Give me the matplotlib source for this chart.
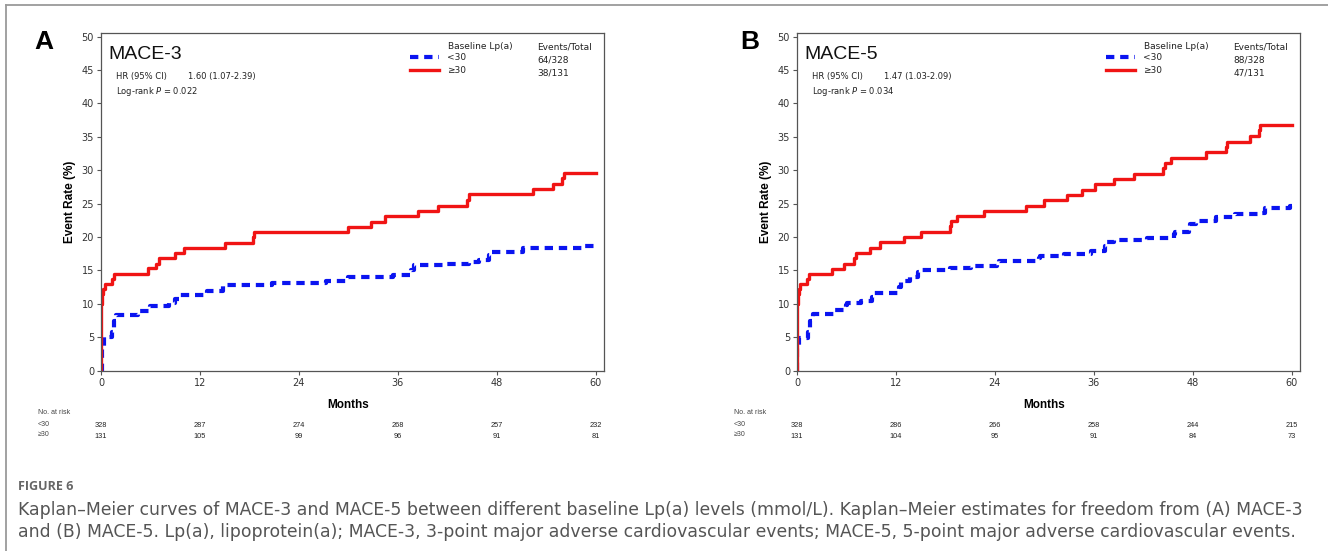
import matplotlib
matplotlib.use("Agg")
import matplotlib.pyplot as plt
from matplotlib.lines import Line2D
from matplotlib.transforms import blended_transform_factory

# ---- data ----
months_ticks = [0, 12, 24, 36, 48, 60]
y_ticks = [0, 5, 10, 15, 20, 25, 30, 35, 40, 45, 50]

# panel A, MACE-3
a_low_t = [0, 0.1, 0.4, 1.3, 1.6, 1.8, 4.5, 5.9, 8.2, 9.0, 9.4, 12.8, 14.8, 20.7,
           27.3, 30.0, 35.4, 37.6, 37.9, 41.9, 44.6, 45.8, 47.0, 47.2, 51.2, 58.6, 59.9, 60]
a_low_v = [0, 3.5, 5.0, 5.8, 7.5, 8.3, 8.9, 9.7, 10.1, 10.8, 11.3, 12.0, 12.9, 13.2,
           13.5, 14.0, 14.4, 15.1, 15.8, 16.0, 16.2, 16.6, 17.3, 17.7, 18.3, 18.6, 18.9, 18.9]
a_high_t = [0, 0.05, 0.1, 0.2, 0.5, 1.3, 1.6, 5.7, 6.7, 7.0, 9.0, 10.1, 15.0, 18.4, 18.6,
            29.9, 32.8, 34.5, 38.5, 40.9, 44.4, 44.6, 52.4, 54.8, 55.9, 56.1, 60]
a_high_v = [0, 10.0, 11.5, 12.2, 13.0, 13.8, 14.5, 15.3, 16.0, 16.8, 17.6, 18.3, 19.1, 20.0, 20.7,
            21.5, 22.3, 23.1, 23.9, 24.7, 25.6, 26.4, 27.2, 28.0, 28.8, 29.6, 29.6]
a_events = ["64/328", "38/131"]
a_risk_low = [328, 287, 274, 268, 257, 232]
a_risk_high = [131, 105, 99, 96, 91, 81]

# panel B, MACE-5
b_low_t = [0, 0.05, 0.2, 1.3, 1.6, 2.0, 4.6, 5.9, 6.1, 7.8, 9.1, 9.3, 12.4, 12.6, 13.7, 14.7, 14.9,
           18.6, 21.1, 24.3, 24.5, 29.3, 29.5, 32.4, 35.6, 37.4, 37.6, 38.5, 42.5, 45.7, 45.9,
           47.5, 47.7, 48.4, 50.8, 53.1, 56.0, 56.7, 59.8, 60]
b_low_v = [0, 3.5, 4.9, 5.8, 7.5, 8.5, 9.1, 9.8, 10.1, 10.4, 11.0, 11.6, 12.5, 13.4, 14.0, 14.7, 15.1,
           15.3, 15.7, 16.0, 16.4, 16.8, 17.2, 17.5, 17.9, 18.6, 19.2, 19.5, 19.9, 20.4, 20.8,
           21.6, 22.0, 22.4, 23.0, 23.4, 23.6, 24.3, 24.6, 24.6]
b_high_t = [0, 0.05, 0.1, 0.2, 0.4, 1.2, 1.5, 4.2, 5.7, 6.9, 7.1, 8.9, 10.1, 13.0, 15.0, 18.5, 18.7,
            19.4, 22.7, 27.8, 29.9, 32.8, 34.6, 36.1, 38.5, 40.9, 44.4, 44.6, 45.4, 49.6,
            52.0, 52.2, 54.9, 56.0, 56.2, 60]
b_high_v = [0, 10.0, 11.5, 12.2, 13.0, 13.8, 14.5, 15.2, 16.0, 16.8, 17.6, 18.4, 19.2, 20.0, 20.8, 21.6, 22.4,
            23.1, 23.9, 24.7, 25.5, 26.3, 27.1, 27.9, 28.7, 29.5, 30.3, 31.1, 31.9, 32.7,
            33.5, 34.3, 35.1, 36.0, 36.8, 36.8]
b_events = ["88/328", "47/131"]
b_risk_low = [328, 286, 266, 258, 244, 215]
b_risk_high = [131, 104, 95, 91, 84, 73]

group_labels = ["<30", "\u226530"]

W, H = 1328, 551
NARROW = ["Liberation Sans Narrow", "DejaVu Sans"]
SANS = ["Liberation Sans", "DejaVu Sans"]
BLUE = "#0a14f0"
RED = "#f01414"


def fx(x):
    return x / W


def fy(y):
    return 1 - y / H


fig = plt.figure(figsize=(W / 100, H / 100), dpi=100)
fig.patch.set_facecolor("white")

# grey frame of the figure box
fig.add_artist(Line2D([fx(6), fx(6)], [fy(5), 0], color="#9a9a9a", lw=1.3))
fig.add_artist(Line2D([fx(6), 1], [fy(5), fy(5)], color="#9a9a9a", lw=1.3))


def panel(left_px, letter, letter_x, title, hr, pval,
          low_t, low_v, high_t, high_v, events, risk_low, risk_high):
    ax = fig.add_axes([fx(left_px), fy(370.7), 503 / W, 337.7 / H])
    ax.step(low_t, low_v, where="post", color=BLUE, lw=3.0, ls=(0, (2.0, 1.4)),
            label=group_labels[0])
    ax.step(high_t, high_v, where="post", color=RED, lw=2.4, label=group_labels[1])
    ax.set_xlim(0, 61)
    ax.set_ylim(0, 50.55)
    ax.set_xticks(months_ticks)
    ax.set_yticks(y_ticks)
    for s in ax.spines.values():
        s.set_color("#555555")
        s.set_linewidth(0.9)
    ax.tick_params(direction="out", length=3, width=0.8, color="#555555",
                   labelsize=7, labelcolor="#333333", pad=2)
    for lab in ax.get_xticklabels() + ax.get_yticklabels():
        lab.set_family(NARROW)
    ax.set_ylabel("Event Rate (%)", fontsize=8.5, fontweight="bold", family=SANS, labelpad=4)

    # legend table
    leg = ax.legend(loc="upper left", bbox_to_anchor=(0.615, 0.940), frameon=False,
                    handlelength=3.2, handletextpad=0.9, labelspacing=0.45,
                    borderpad=0, borderaxespad=0, prop={"family": NARROW, "size": 6.5})
    for t in leg.get_texts():
        t.set_color("#222222")
    ax.text(0.69, 0.960, "Baseline Lp(a)", transform=ax.transAxes, fontsize=6.5,
            family=NARROW, va="center", color="#222222")
    ax.text(0.868, 0.960, "Events/Total", transform=ax.transAxes, fontsize=6.5,
            family=NARROW, va="center", color="#222222")
    ax.text(0.868, 0.920, events[0], transform=ax.transAxes, fontsize=6.5,
            family=NARROW, va="center", color="#222222")
    ax.text(0.868, 0.881, events[1], transform=ax.transAxes, fontsize=6.5,
            family=NARROW, va="center", color="#222222")

    # title and statistics
    ax.text(0.015, 0.937, title, transform=ax.transAxes, fontsize=14, family=SANS,
            va="center", color="#111111")
    ax.text(0.029, 0.872, "HR (95% CI)", transform=ax.transAxes, fontsize=6,
            family=NARROW, va="center", color="#222222")
    ax.text(0.173, 0.872, hr, transform=ax.transAxes, fontsize=6,
            family=NARROW, va="center", color="#222222")
    ax.text(0.029, 0.826, "Log-rank $\\it{P}$ = " + pval, transform=ax.transAxes, fontsize=6,
            family=NARROW, va="center", color="#222222")

    fig.text(fx(letter_x), fy(42), letter, fontsize=19, fontweight="bold", family=SANS,
             ha="center", va="center")

    # months label and numbers at risk
    fig.text(fx(left_px + 247.5), fy(405), "Months", fontsize=8.5, fontweight="bold",
             family=SANS, ha="center", va="center")
    tab_x = left_px - 63
    fig.text(fx(tab_x), fy(412), "No. at risk", fontsize=5, family=SANS, va="center",
             color="#444444")
    fig.text(fx(tab_x), fy(424), group_labels[0], fontsize=5, family=SANS, va="center",
             color="#444444")
    fig.text(fx(tab_x), fy(435), group_labels[1], fontsize=5, family=SANS, va="center",
             color="#444444")
    tr = blended_transform_factory(ax.transData, fig.transFigure)
    for m, nl, nh in zip(months_ticks, risk_low, risk_high):
        ax.text(m, fy(425.5), str(nl), transform=tr, fontsize=5.3, family=SANS,
                ha="center", va="center", color="#222222", clip_on=False)
        ax.text(m, fy(436.5), str(nh), transform=tr, fontsize=5.3, family=SANS,
                ha="center", va="center", color="#222222", clip_on=False)
    return ax


panel(101, "A", 44, "MACE-3", "1.60 (1.07-2.39)", "0.022",
      a_low_t, a_low_v, a_high_t, a_high_v, a_events, a_risk_low, a_risk_high)
panel(797, "B", 750, "MACE-5", "1.47 (1.03-2.09)", "0.034",
      b_low_t, b_low_v, b_high_t, b_high_v, b_events, b_risk_low, b_risk_high)

# caption
CAP = ["DejaVu Sans"]
fig.text(fx(18), fy(487), "FIGURE 6", fontsize=9, fontweight="bold", family=["Open Sans", "DejaVu Sans"],
         color="#666666", va="center")
fig.text(fx(18), fy(510),
         "Kaplan\u2013Meier curves of MACE-3 and MACE-5 between different baseline Lp(a) levels (mmol/L). "
         "Kaplan\u2013Meier estimates for freedom from (A) MACE-3",
         fontsize=12.4, family=CAP, color="#555555", va="center")
fig.text(fx(18), fy(532),
         "and (B) MACE-5. Lp(a), lipoprotein(a); MACE-3, 3-point major adverse cardiovascular events; "
         "MACE-5, 5-point major adverse cardiovascular events.",
         fontsize=12.4, family=CAP, color="#555555", va="center")

fig.savefig("out.png", dpi=100)
